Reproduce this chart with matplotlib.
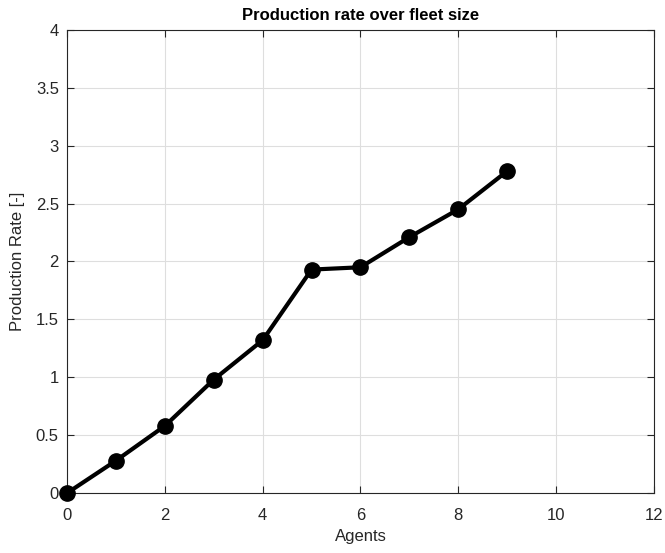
import matplotlib
matplotlib.use("Agg")
import matplotlib.pyplot as plt

agents = [0, 1, 2, 3, 4, 5, 6, 7, 8, 9]
production_rate = [0.0, 0.28, 0.58, 0.98, 1.32, 1.93, 1.95, 2.21, 2.45, 2.78]
x_ticks = [0, 2, 4, 6, 8, 10, 12]
y_ticks = [0, 0.5, 1, 1.5, 2, 2.5, 3, 3.5, 4]
y_tick_labels = ["0", "0.5", "1", "1.5", "2", "2.5", "3", "3.5", "4"]

plt.rcParams['font.family'] = ['Liberation Sans', 'DejaVu Sans']
axis_color = (0.15, 0.15, 0.15)

fig = plt.figure(figsize=(6.65, 5.53), dpi=100)
ax = fig.add_axes([0.101, 0.1085, 0.882, 0.8373])

ax.plot(agents, production_rate, color='black', linewidth=3, marker='o',
        markersize=11, clip_on=False, zorder=3)

ax.set_xlim(0, 12)
ax.set_ylim(0, 4)
ax.set_xticks(x_ticks)
ax.set_yticks(y_ticks)
ax.set_yticklabels(y_tick_labels)

ax.grid(True, color=(0.87, 0.87, 0.87), linewidth=0.8)
ax.set_axisbelow(True)
ax.tick_params(direction='in', top=True, right=True, length=5, width=0.8,
               colors=axis_color, labelsize=12, labelcolor=axis_color, pad=6)
ax.tick_params(axis='x', pad=11)
for s in ax.spines.values():
    s.set_color(axis_color)
    s.set_linewidth(0.8)

ax.set_xlabel("Agents", fontsize=12, color=axis_color, labelpad=4)
ax.set_ylabel("Production Rate [-]", fontsize=12, color=axis_color, labelpad=8)
ax.set_title("Production rate over fleet size", fontsize=12, fontweight='bold', pad=7)

fig.savefig("out.png", dpi=100)
